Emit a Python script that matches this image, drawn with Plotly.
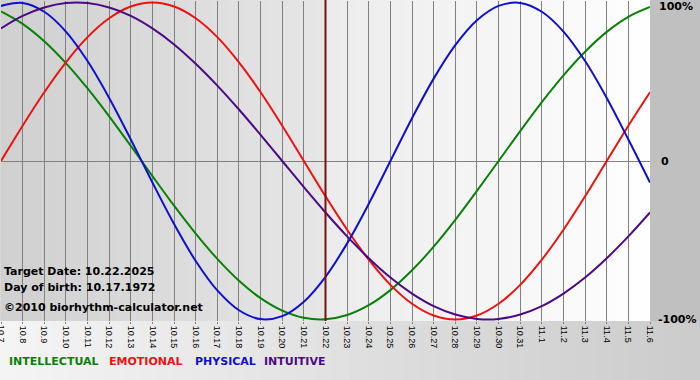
import plotly.graph_objects as go

DAYS = ["10.7", "10.8", "10.9", "10.10", "10.11", "10.12", "10.13", "10.14", "10.15",
        "10.16", "10.17", "10.18", "10.19", "10.20", "10.21", "10.22", "10.23", "10.24",
        "10.25", "10.26", "10.27", "10.28", "10.29", "10.30", "10.31", "11.1", "11.2",
        "11.3", "11.4", "11.5", "11.6"]

INTELLECTUAL = [0.945, 0.866, 0.756, 0.618, 0.458, 0.282, 0.095, -0.095, -0.282, -0.458,
                -0.618, -0.756, -0.866, -0.945, -0.990, -0.999, -0.972, -0.910, -0.815,
                -0.690, -0.541, -0.372, -0.189, 0.000, 0.189, 0.372, 0.541, 0.690, 0.815,
                0.910, 0.972]
EMOTIONAL = [0.000, 0.223, 0.434, 0.623, 0.782, 0.901, 0.975, 1.000, 0.975, 0.901, 0.782,
             0.623, 0.434, 0.223, 0.000, -0.223, -0.434, -0.623, -0.782, -0.901, -0.975,
             -1.000, -0.975, -0.901, -0.782, -0.623, -0.434, -0.223, 0.000, 0.223, 0.434]
PHYSICAL = [0.979, 0.998, 0.942, 0.817, 0.631, 0.398, 0.136, -0.136, -0.398, -0.631,
            -0.817, -0.942, -0.998, -0.979, -0.888, -0.731, -0.520, -0.270, 0.000, 0.270,
            0.520, 0.731, 0.888, 0.979, 0.998, 0.942, 0.817, 0.631, 0.398, 0.136, -0.136]
INTUITIVE = [0.837, 0.916, 0.969, 0.997, 0.997, 0.969, 0.916, 0.837, 0.736, 0.614, 0.476,
             0.325, 0.165, 0.000, -0.165, -0.325, -0.476, -0.614, -0.736, -0.837, -0.916,
             -0.969, -0.997, -0.997, -0.969, -0.916, -0.837, -0.736, -0.614, -0.476, -0.325]

SERIES_NAMES = ["INTELLECTUAL", "EMOTIONAL", "PHYSICAL", "INTUITIVE"]
SERIES_COLORS = ["#0a800a", "#ee1111", "#1010cc", "#4b0a82"]
TARGET_DAY = "10.22"
Y_TICKS = [1, 0, -1]
Y_LABELS = ["100%", "0", "-100%"]
INFO_LINES = ["Target Date: 10.22.2025", "Day of birth: 10.17.1972", "\u00a92010 biorhythm-calculator.net"]

W, H = 700, 380
ML, MR, MT, MB = 1, 50, 1, 59
PW, PH = W - ML - MR, H - MT - MB


def px(x):
    return (x - ML) / PW


def py(y):
    return (MT + PH - y) / PH


def mix(c1, c2, t):
    return "rgb(%d,%d,%d)" % tuple(round(a + (b - a) * t) for a, b in zip(c1, c2))


xs = list(range(len(DAYS)))
t_idx = DAYS.index(TARGET_DAY)
t_px = ML + PW * t_idx / (len(DAYS) - 1)

fig = go.Figure()
for name, vals, col in zip(SERIES_NAMES, [INTELLECTUAL, EMOTIONAL, PHYSICAL, INTUITIVE], SERIES_COLORS):
    fig.add_trace(go.Scatter(x=xs, y=vals, mode="lines", name=name,
                             line=dict(color=col, width=2, shape="spline", smoothing=1.0),
                             showlegend=False, hoverinfo="skip"))

shapes = []
N = 40
# plot area gradients
for i in range(N):
    x0 = ML + (t_px - ML) * i / N
    x1 = ML + (t_px - ML) * (i + 1) / N
    shapes.append(dict(type="rect", xref="paper", yref="paper", x0=px(x0) - 0.001, x1=px(x1) + 0.001,
                       y0=0, y1=py(0), line=dict(width=0), layer="below",
                       fillcolor=mix((208, 208, 208), (230, 230, 230), i / (N - 1))))
    x0 = t_px + (ML + PW - t_px) * i / N
    x1 = t_px + (ML + PW - t_px) * (i + 1) / N
    shapes.append(dict(type="rect", xref="paper", yref="paper", x0=px(x0) - 0.001, x1=px(x1) + 0.001,
                       y0=0, y1=py(0), line=dict(width=0), layer="below",
                       fillcolor=mix((236, 236, 236), (254, 254, 254), i / (N - 1))))
# bottom band gradient
for i in range(N):
    x0 = W * i / N
    x1 = W * (i + 1) / N
    shapes.append(dict(type="rect", xref="paper", yref="paper", x0=px(x0) - 0.001, x1=px(x1) + 0.001,
                       y0=py(H), y1=0, line=dict(width=0), layer="below",
                       fillcolor=mix((244, 244, 244), (204, 204, 204), i / (N - 1))))
# right grey strip
shapes.append(dict(type="rect", xref="paper", yref="paper", x0=1, x1=px(W), y0=0, y1=py(0),
                   line=dict(width=0), layer="below", fillcolor="#c0c0c0"))
# target date line
shapes.append(dict(type="line", xref="x", yref="paper", x0=t_idx, x1=t_idx, y0=0, y1=py(0),
                   line=dict(color="#7a1010", width=2), layer="above"))
fig.update_layout(shapes=shapes)

anns = []
for i, txt in enumerate(INFO_LINES):
    anns.append(dict(xref="paper", yref="paper", x=px(2), y=py([271, 287, 307][i]), text=txt,
                     showarrow=False, xanchor="left", yanchor="middle",
                     font=dict(family="DejaVu Sans", size=11, color="black", weight="bold")))
for name, col, lx in zip(SERIES_NAMES, SERIES_COLORS, [7, 107, 193, 262]):
    anns.append(dict(xref="paper", yref="paper", x=px(lx), y=py(361), text=name,
                     showarrow=False, xanchor="left", yanchor="middle",
                     font=dict(family="DejaVu Sans", size=11, color=col, weight="bold")))
# right-hand percentage labels, positioned on the y axis values
for v, lab, ys in zip(Y_TICKS, Y_LABELS, [-4, 0, 0]):
    anns.append(dict(xref="paper", yref="y", x=1, y=v, text=lab, showarrow=False,
                     xanchor="left", yanchor="middle", xshift=[7, 9, 6][Y_TICKS.index(v)], yshift=ys,
                     font=dict(family="DejaVu Sans", size=11, color="black", weight="bold")))
# first day label sits on the left edge (axis would hide it)
anns.append(dict(xref="x", yref="paper", x=xs[0], y=0, text=DAYS[0], showarrow=False,
                 textangle=90, xanchor="center", yanchor="top", yshift=-2,
                 font=dict(family="Liberation Sans", size=9, color="black")))
fig.update_layout(annotations=anns)

fig.update_layout(
    width=W, height=H,
    margin=dict(l=ML, r=MR, t=MT, b=MB, pad=0),
    paper_bgcolor="#e8e8e8",
    plot_bgcolor="rgba(0,0,0,0)",
    xaxis=dict(range=[0, len(DAYS) - 1], tickvals=xs, ticktext=DAYS, tickangle=90,
               showgrid=True, gridcolor="#808080", gridwidth=1, zeroline=False,
               ticks="outside", ticklen=2, tickcolor="#808080", showline=False,
               tickfont=dict(family="Liberation Sans", size=9, color="black"), fixedrange=True),
    yaxis=dict(range=[-1.01, 1.01], side="right", showticklabels=False,
               showgrid=False, zeroline=True, zerolinecolor="#808080", zerolinewidth=1,
               ticks="", showline=False, fixedrange=True),
)

fig.write_html("out.html", config={"displayModeBar": False},
               post_script="document.body.style.margin='0';document.body.style.overflow='hidden';")
